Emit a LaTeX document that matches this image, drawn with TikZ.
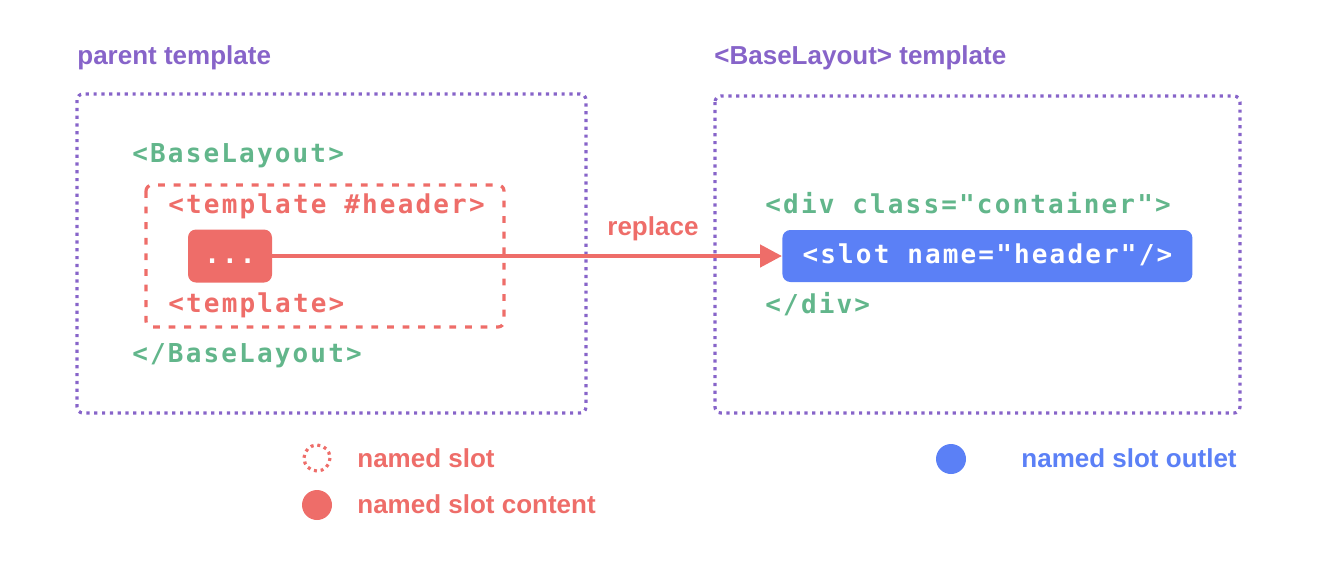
\documentclass[tikz,border=0pt]{standalone}
\usepackage{fontspec}
\setmainfont{Liberation Sans}
\newfontfamily\codefont[LetterSpace=8.3,Ligatures=TeXOff]{DejaVu Sans Mono}
\usetikzlibrary{arrows.meta}
\definecolor{vuepurple}{HTML}{8764C9}
\definecolor{vuegreen}{HTML}{62B68B}
\definecolor{vuered}{HTML}{EE6D69}
\definecolor{vueblue}{HTML}{5B80F6}
\tikzset{
  title/.style={anchor=base west, inner sep=0pt, font=\fontsize{13}{15}\selectfont\bfseries},
  code/.style={anchor=base west, inner sep=0pt, font=\fontsize{13}{15}\selectfont\codefont\bfseries},
  frame/.style={draw=vuepurple, line width=1.6pt, dash pattern=on 1.6pt off 2.3pt, rounded corners=3pt},
  slotframe/.style={draw=vuered, line width=1.6pt, dash pattern=on 3.4pt off 4.4pt, rounded corners=3pt},
  codebox/.style={rounded corners=4pt, inner xsep=0pt, inner ysep=0pt, text height=9pt, text depth=2pt,
    font=\fontsize{13}{15}\selectfont\codefont\bfseries, text=white}
}
\begin{document}
\begin{tikzpicture}[x=0.5pt,y=-0.5pt]
    \useasboundingbox (0,0) rectangle (1344,574);
    % titles
    \node[title, text=vuepurple] (ptitle) at (77,64) {parent template};
    \node[title, text=vuepurple] (btitle) at (714,64) {<BaseLayout> template};
    % outer frames
    \draw[frame] (77,94) rectangle (586,413);
    \draw[frame] (715,96) rectangle (1240,413);
    \draw[slotframe] (146,185) rectangle (504,327);
    % parent template code
    \node[code, text=vuegreen] (bopen) at (132,162) {<BaseLayout>};
    \node[code, text=vuered] (topen) at (168,213) {<template \#header>};
    \node[codebox, fill=vuered, minimum width=42pt, minimum height=26.5pt] (dots) at (230,256) {...};
    \node[code, text=vuered] (tclose) at (168,312) {<template>};
    \node[code, text=vuegreen] (bclose) at (132,362) {</BaseLayout>};
    % BaseLayout code
    \node[code, text=vuegreen] (dopen) at (765,213) {<div class="container">};
    \node[codebox, fill=vueblue, anchor=west, minimum width=205pt, minimum height=26pt] (slot) at (782,256) {<slot name="header"/>};
    \node[code, text=vuegreen] (dclose) at (765,313) {</div>};
    % connector
    \draw[vuered, line width=2.3pt, -{Triangle[length=11pt,width=11pt]}] (dots.east) -- (slot.west);
    \node[title, text=vuered] (replace) at (607,235) {replace};
    % legend
    \draw[vuered, line width=1.6pt, dash pattern=on 1.5pt off 1.9pt] (317,458) circle [radius=13];
    \node[title, text=vuered] (lslot) at (357,467) {named slot};
    \fill[vuered] (317,505) circle [radius=15];
    \node[title, text=vuered] (lcontent) at (357,513) {named slot content};
    \fill[vueblue] (951,459) circle [radius=15];
    \node[title, text=vueblue] (loutlet) at (1021,467) {named slot outlet};
\end{tikzpicture}
\end{document}
